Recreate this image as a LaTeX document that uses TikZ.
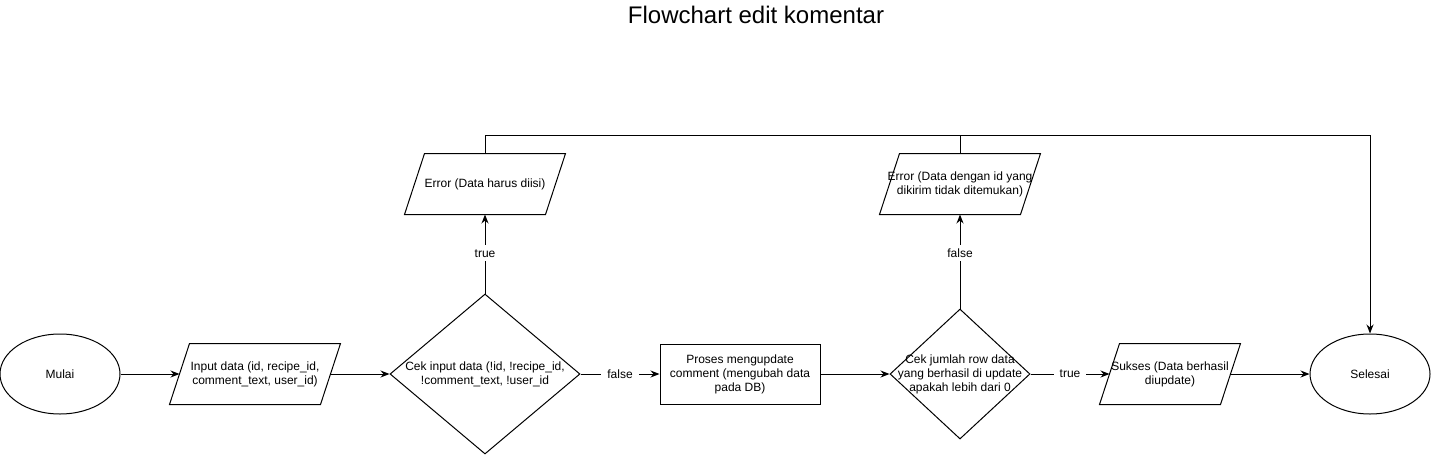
\documentclass[tikz,border=0pt]{standalone}
\usepackage{fontspec}
\setmainfont{Liberation Sans}
\usetikzlibrary{shapes.geometric,arrows.meta}
\begin{document}
\begin{tikzpicture}[x=1pt,y=-1pt, line width=1pt,
  txt/.style={font=\fontsize{12}{14}\selectfont, align=center, text=black},
  term/.style={ellipse, draw, minimum width=120pt, minimum height=80pt, inner sep=0pt, txt},
  procbox/.style={rectangle, draw, minimum width=160pt, minimum height=60pt, inner sep=0pt, txt},
  iobox/.style={rectangle, minimum height=60pt, inner sep=0pt},
  decision/.style={diamond, draw, inner sep=0pt},
  arr/.style={-{Stealth[length=9pt,width=7pt]}},
  lbl/.style={fill=white, txt, inner xsep=6pt, inner ysep=4pt}
]
\useasboundingbox (0,0) rectangle (1431,455);

\node[font=\fontsize{24}{28}\selectfont] (title) at (756,15) {Flowchart edit komentar};

\node[term] (start) at (60,374) {Mulai};
\node[iobox, minimum width=150pt, label={[txt]center:Input data (id, recipe\_id,\\comment\_text, user\_id)}] (in) at (255,374) {};
\node[decision, minimum width=190pt, minimum height=160pt, label={[txt]center:Cek input data (!id, !recipe\_id,\\!comment\_text, !user\_id}] (d1) at (485,374) {};
\node[procbox] (proc) at (740,374) {Proses mengupdate\\comment (mengubah data\\pada DB)};
\node[decision, minimum width=140pt, minimum height=130pt, label={[txt]center:Cek jumlah row data\\yang berhasil di update\\apakah lebih dari 0}] (d2) at (960,374) {};
\node[iobox, minimum width=120pt, label={[txt]center:Sukses (Data berhasil\\diupdate)}] (ok) at (1170,374) {};
\node[term] (end) at (1370,374) {Selesai};
\node[iobox, minimum width=140pt, label={[txt]center:Error (Data harus diisi)}] (e1) at (485,184) {};
\node[iobox, minimum width=140pt, label={[txt]center:Error (Data dengan id yang\\dikirim tidak ditemukan)}] (e2) at (960,184) {};

\foreach \n in {in,ok,e1,e2}{
  \draw ([xshift=10pt]\n.north west) -- ([xshift=10pt]\n.north east)
     -- ([xshift=-10pt]\n.south east) -- ([xshift=-10pt]\n.south west) -- cycle;
}

\coordinate (tl) at (485,135);
\coordinate (tr) at (1370,135);
\coordinate (tm) at (960,135);

\draw[arr] (start) -- (in);
\draw[arr] (in) -- (d1);
\draw[arr] (d1) -- node[lbl] (lf1) {false} (proc);
\draw[arr] (proc) -- (d2);
\draw[arr] (d2) -- node[lbl] (lt2) {true} (ok);
\draw[arr] (ok) -- (end);
\draw[arr] (d1.north) -- node[lbl, pos=0.51] (lt1) {true} (e1.south);
\draw[arr] (d2.north) -- node[lbl, pos=0.59] (lf2) {false} (e2.south);
\draw[arr] (e1.north) -- (tl) -- (tr) -- (end.north);
\draw (e2.north) -- (tm);
\end{tikzpicture}
\end{document}
